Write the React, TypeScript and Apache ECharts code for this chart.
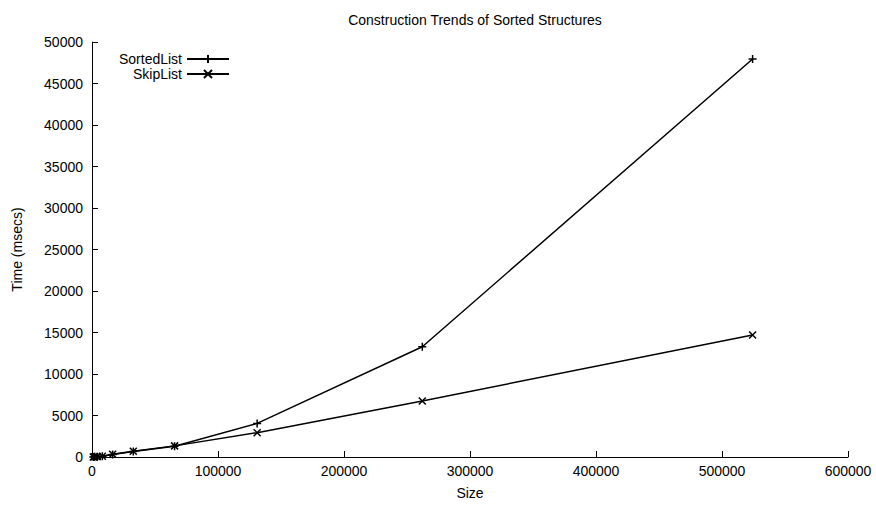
import React, { useEffect, useRef } from "react";
import * as echarts from "echarts";

const sizes = [1024, 2048, 4096, 8192, 16384, 32768, 65536, 131072, 262144, 524288];
const sortedListTimes = [10, 20, 40, 90, 300, 650, 1300, 4050, 13280, 47950];
const skipListTimes = [10, 20, 45, 100, 320, 700, 1340, 2930, 6750, 14700];
const xTicks = [0, 100000, 200000, 300000, 400000, 500000, 600000];
const yTicks = [0, 5000, 10000, 15000, 20000, 25000, 30000, 35000, 40000, 45000, 50000];

const plusPath = "path://M0,5L10,5M5,0L5,10";
const crossPath = "path://M0,0L10,10M0,10L10,0";
const FONT = "'Liberation Sans', Arial, Helvetica, sans-serif";
const FS = 14;

export default function App() {
  const ref = useRef<HTMLDivElement>(null);
  useEffect(() => {
    if (!ref.current) return;
    const chart = echarts.init(ref.current, undefined, { renderer: "svg" });
    const axisCommon = {
      type: "value" as const,
      axisLine: { show: true, lineStyle: { color: "#000", width: 1 } },
      axisTick: { show: true, inside: true, length: 6, lineStyle: { color: "#000" } },
      splitLine: { show: false },
      nameLocation: "middle" as const,
      nameTextStyle: { color: "#000", fontSize: FS, fontFamily: FONT },
    };
    chart.setOption({
      animation: false,
      backgroundColor: "#fff",
      title: {
        text: "Construction Trends of Sorted Structures",
        left: 470,
        textAlign: "center",
        top: 8,
        textStyle: { fontSize: FS, fontWeight: "normal", color: "#000", fontFamily: FONT },
      },
      legend: {
        orient: "vertical",
        align: "right",
        left: 113,
        top: 47,
        itemWidth: 42,
        itemHeight: 10,
        itemGap: 1,
        itemTextGap: 6,
        textStyle: { fontSize: FS, color: "#000", fontFamily: FONT, width: 64, align: "right", lineHeight: 14 },
        data: ["SortedList", "SkipList"],
      },
      grid: { left: 92, right: 28, top: 42, bottom: 49, containLabel: false },
      xAxis: {
        ...axisCommon,
        name: "Size",
        nameGap: 29,
        min: xTicks[0],
        max: xTicks[xTicks.length - 1],
        interval: xTicks[1] - xTicks[0],
        axisLabel: { color: "#000", fontSize: FS, fontFamily: FONT, margin: 7, formatter: (v: number) => String(v) },
      },
      yAxis: {
        ...axisCommon,
        name: "Time (msecs)",
        nameGap: 68,
        min: yTicks[0],
        max: yTicks[yTicks.length - 1],
        interval: yTicks[1] - yTicks[0],
        axisLabel: { color: "#000", fontSize: FS, fontFamily: FONT, margin: 9, formatter: (v: number) => String(v) },
      },
      series: [
        {
          name: "SortedList",
          type: "line",
          data: sizes.map((s, i) => [s, sortedListTimes[i]]),
          color: "#000",
          symbol: plusPath,
          symbolSize: 8,
          showAllSymbol: true,
          lineStyle: { color: "#000", width: 1.5 },
          itemStyle: { color: "#000", borderColor: "#000", borderWidth: 1.5 },
        },
        {
          name: "SkipList",
          type: "line",
          data: sizes.map((s, i) => [s, skipListTimes[i]]),
          color: "#000",
          symbol: crossPath,
          symbolSize: 7,
          showAllSymbol: true,
          lineStyle: { color: "#000", width: 1.5 },
          itemStyle: { color: "#000", borderColor: "#000", borderWidth: 1.5 },
        },
      ],
    });
    return () => chart.dispose();
  }, []);
  return <div ref={ref} style={{ width: 876, height: 506, position: "absolute", left: 0, top: 0 }} />;
}
